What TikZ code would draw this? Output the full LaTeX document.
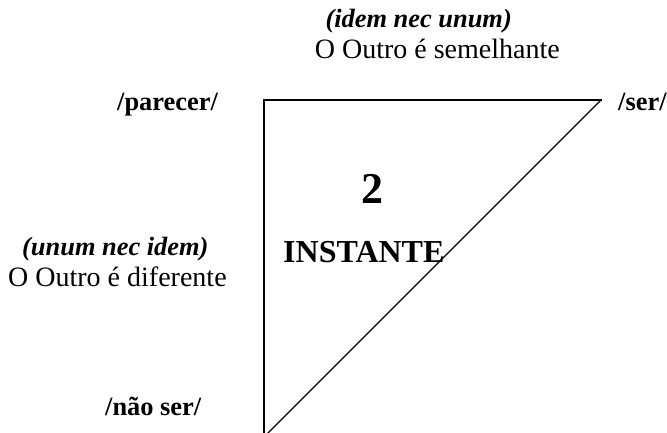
\documentclass[tikz,border=0pt]{standalone}
\usepackage{fontspec}
\setmainfont{Liberation Serif}
\begin{document}
\begin{tikzpicture}[x=1pt,y=-1pt,
  lbl/.style={inner sep=0pt, font=\fontsize{28}{32}\selectfont},
  bolds/.style={inner sep=0pt, font=\fontsize{26.4}{30}\selectfont\bfseries},
  boldit/.style={inner sep=0pt, font=\fontsize{26.4}{30}\selectfont\bfseries\itshape},
  edge/.style={draw=black, line width=2pt},
  diag/.style={draw=black, line width=1.1pt}]
\useasboundingbox (0,0) rectangle (667,432);
\clip (0,0) rectangle (667,432);
\fill[white] (0,0) rectangle (667,432);
% triangle vertices
\coordinate (tl) at (264,100);
\coordinate (tr) at (601,100);
\coordinate (bl) at (264,437);
\draw[edge, line cap=rect] (bl) -- (tl) -- (tr);
\draw[diag] (tr) -- (bl);
% labels
\node[boldit, anchor=base east] (idem) at (512,27) {(idem nec unum)};
\node[lbl, anchor=base east] (semel) at (560,58) {O Outro é semelhante};
\node[bolds, anchor=base west] (parecer) at (117,110) {/parecer/};
\node[bolds, anchor=base west] (ser) at (618,110) {/ser/};
\node[inner sep=0pt, font=\fontsize{44}{50}\selectfont\bfseries, anchor=base] (two) at (372,203) {2};
\node[inner sep=0pt, font=\fontsize{32}{36}\selectfont\bfseries, anchor=base west] (inst) at (283,262) {INSTANTE};
\node[boldit, anchor=base west] (unum) at (22,255) {(unum nec idem)};
\node[lbl, anchor=base west] (difer) at (8,286) {O Outro é diferente};
\node[bolds, anchor=base west] (naoser) at (105,415) {/não ser/};
\end{tikzpicture}
\end{document}
